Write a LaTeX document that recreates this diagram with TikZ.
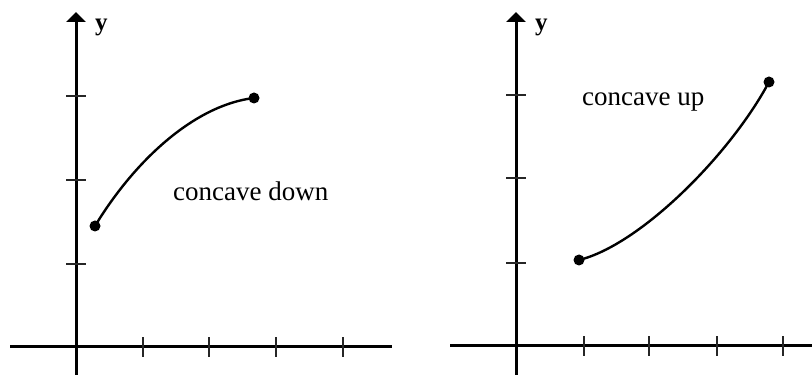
\documentclass[tikz,border=0pt]{standalone}
\usepackage{fontspec}
\setmainfont{Liberation Serif}
\usetikzlibrary{arrows.meta}

\begin{document}
\begin{tikzpicture}[x=1pt,y=1pt,>={Triangle[length=10pt,width=19pt]},
  axis/.style={line width=3pt},
  tick/.style={line width=1.9pt,black!85},
  curve/.style={line width=2.4pt},
  pt/.style={circle,fill,inner sep=0pt,minimum size=11pt},
  lbl/.style={anchor=base west,inner sep=0pt,font=\fontsize{27}{30}\selectfont}]
  \useasboundingbox (0,0) rectangle (812,375);
  % left: concave down
  \coordinate (lxa) at (10,28);  \coordinate (lxb) at (392,28);
  \coordinate (lya) at (76,0);   \coordinate (lyb) at (76,363);
  \draw[axis] (lxa) -- (lxb);
  \draw[axis,->] (lya) -- (lyb);
  \foreach \x in {143,209,276,343} \draw[tick] (\x,18) -- (\x,38);
  \foreach \y in {111,195,279} \draw[tick] (66,\y) -- (86,\y);
  \node[anchor=base west,inner sep=0pt,font=\bfseries\fontsize{25}{28}\selectfont] (ly) at (95,344) {y};
  \node[pt] (la) at (95,149) {};
  \node[pt] (lb) at (254,277) {};
  \draw[curve] (la.center) .. controls (135,215) and (195,270) .. (lb.center);
  \node[lbl] (ltext) at (173,174) {concave down};
  % right: concave up
  \coordinate (rxa) at (450,29); \coordinate (rxb) at (812,29);
  \coordinate (rya) at (516,0);  \coordinate (ryb) at (516,363);
  \draw[axis] (rxa) -- (rxb);
  \draw[axis,->] (rya) -- (ryb);
  \foreach \x in {584,649,717,783} \draw[tick] (\x,19) -- (\x,39);
  \foreach \y in {112,197,280} \draw[tick] (506,\y) -- (526,\y);
  \node[anchor=base west,inner sep=0pt,font=\bfseries\fontsize{25}{28}\selectfont] (ry) at (535,344) {y};
  \node[pt] (ra) at (579,115) {};
  \node[pt] (rb) at (769,293) {};
  \draw[curve] (ra.center) .. controls (640,130) and (730,220) .. (rb.center);
  \node[lbl] (rtext) at (582,269) {concave up};
\end{tikzpicture}
\end{document}
